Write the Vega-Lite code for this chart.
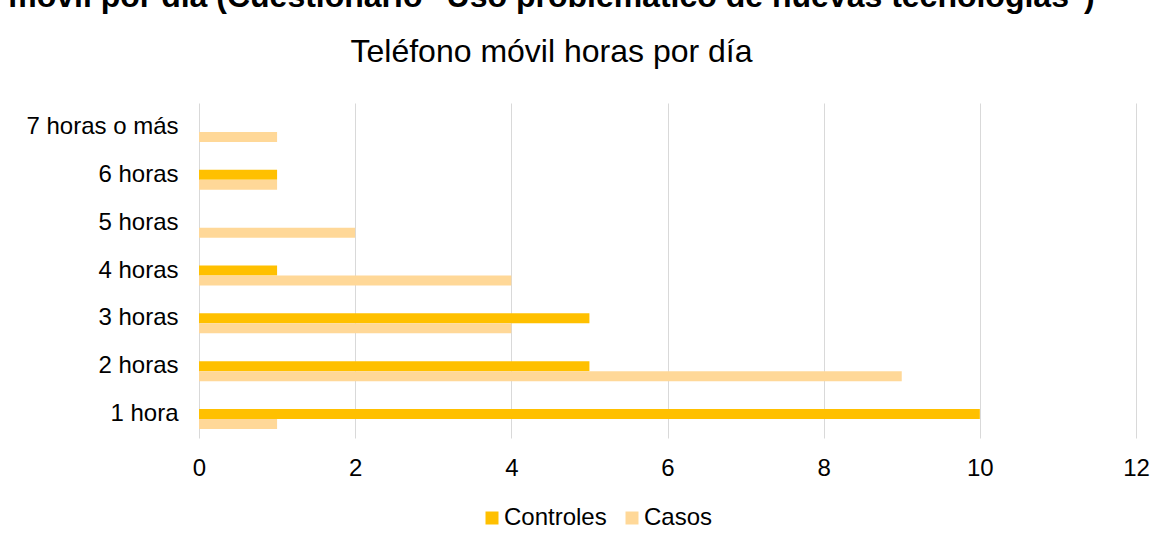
{
  "$schema": "https://vega.github.io/schema/vega-lite/v6.json",
  "autosize": {"type": "none"},
  "width": 937,
  "height": 335,
  "padding": {"left": 199, "top": 103, "right": 38, "bottom": 110},
  "background": "white",
  "title": {
    "text": "móvil por día (Cuestionario \"Uso problemático de nuevas tecnologías\")",
    "subtitle": "Teléfono móvil horas por día",
    "anchor": "middle",
    "frame": "group",
    "dx": -116,
    "offset": 34,
    "subtitlePadding": 23,
    "font": "Liberation Sans",
    "fontSize": 32,
    "fontWeight": "bold",
    "color": "#000000",
    "subtitleFont": "Liberation Sans",
    "subtitleFontSize": 32,
    "subtitleFontWeight": "normal",
    "subtitleColor": "#000000"
  },
  "data": {
    "values": [
      {"horas": "7 horas o más", "serie": "Controles", "valor": 0},
      {"horas": "7 horas o más", "serie": "Casos", "valor": 1},
      {"horas": "6 horas", "serie": "Controles", "valor": 1},
      {"horas": "6 horas", "serie": "Casos", "valor": 1},
      {"horas": "5 horas", "serie": "Controles", "valor": 0},
      {"horas": "5 horas", "serie": "Casos", "valor": 2},
      {"horas": "4 horas", "serie": "Controles", "valor": 1},
      {"horas": "4 horas", "serie": "Casos", "valor": 4},
      {"horas": "3 horas", "serie": "Controles", "valor": 5},
      {"horas": "3 horas", "serie": "Casos", "valor": 4},
      {"horas": "2 horas", "serie": "Controles", "valor": 5},
      {"horas": "2 horas", "serie": "Casos", "valor": 9},
      {"horas": "1 hora", "serie": "Controles", "valor": 10},
      {"horas": "1 hora", "serie": "Casos", "valor": 1}
    ]
  },
  "mark": {"type": "bar"},
  "encoding": {
    "y": {
      "field": "horas",
      "type": "nominal",
      "sort": ["7 horas o más", "6 horas", "5 horas", "4 horas", "3 horas", "2 horas", "1 hora"],
      "scale": {"paddingInner": 0.373, "paddingOuter": 0.1865},
      "axis": {
        "title": null,
        "domain": false,
        "ticks": false,
        "tickSize": 0,
        "labelPadding": 21,
        "labelFontSize": 24,
        "labelFont": "Liberation Sans",
        "labelColor": "#000000",
        "grid": false
      }
    },
    "yOffset": {
      "field": "serie",
      "type": "nominal",
      "scale": {"domain": ["vacío", "Controles", "Casos"], "paddingInner": 0, "paddingOuter": 0}
    },
    "x": {
      "field": "valor",
      "type": "quantitative",
      "scale": {"domain": [0, 12], "nice": false},
      "axis": {
        "title": null,
        "values": [0, 2, 4, 6, 8, 10, 12],
        "domain": false,
        "ticks": false,
        "tickSize": 0,
        "labelPadding": 18,
        "labelFlush": false,
        "grid": true,
        "gridColor": "#D9D9D9",
        "gridWidth": 1,
        "labelFontSize": 24,
        "labelFont": "Liberation Sans",
        "labelColor": "#000000"
      }
    },
    "color": {
      "field": "serie",
      "type": "nominal",
      "scale": {"domain": ["Controles", "Casos"], "range": ["#FFC000", "#FFD898"]},
      "legend": {
        "title": null,
        "orient": "none",
        "direction": "horizontal",
        "legendX": 281,
        "legendY": 403,
        "symbolType": "square",
        "symbolSize": 169,
        "symbolStrokeWidth": 0,
        "labelFontSize": 24,
        "labelFont": "Liberation Sans",
        "labelColor": "#000000",
        "labelOffset": 0,
        "columnPadding": 13,
        "padding": 0
      }
    }
  },
  "config": {"view": {"stroke": null}}
}
